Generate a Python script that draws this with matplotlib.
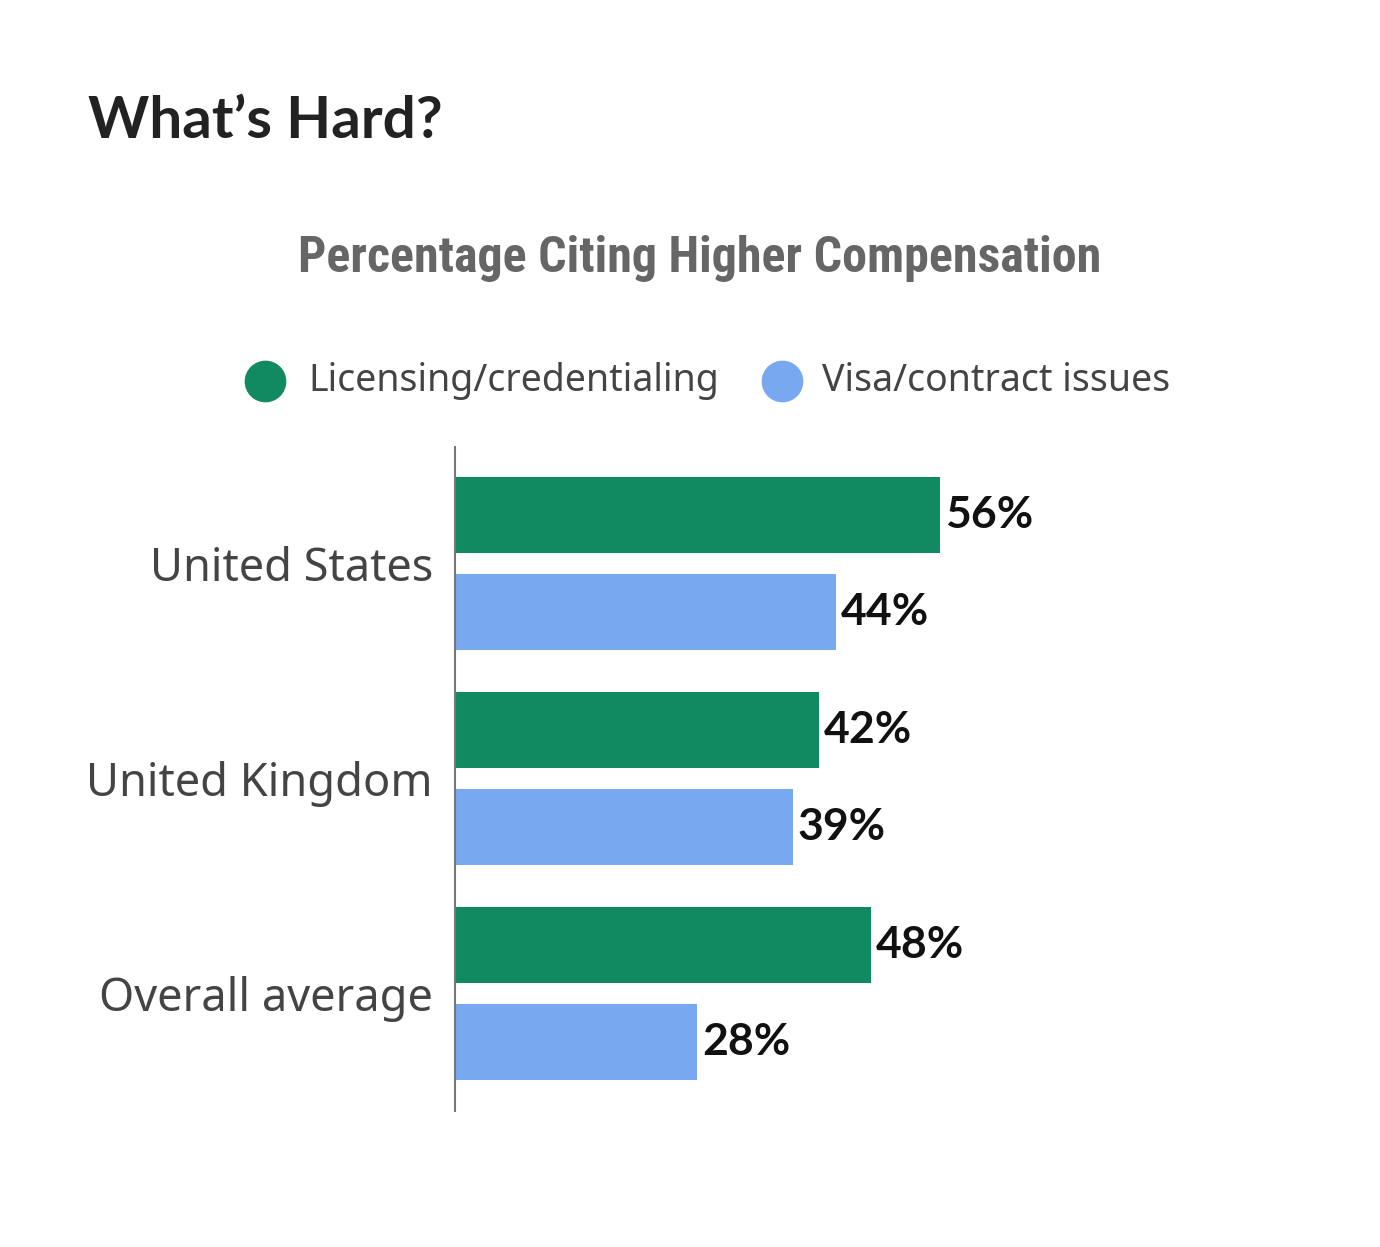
import matplotlib.pyplot as plt
from matplotlib.lines import Line2D

categories = ['United States', 'United Kingdom', 'Overall average']
licensing = [56, 42, 48]
visa = [44, 39, 28]
series_names = ['Licensing/credentialing', 'Visa/contract issues']

green = '#118a62'
blue = '#78a8f0'
font = ['Noto Sans', 'Lato', 'DejaVu Sans']
bold_font = ['Lato', 'DejaVu Sans']
cond = ['Roboto Condensed', 'Roboto', 'DejaVu Sans']

fig = plt.figure(figsize=(13.8, 12.47), dpi=100)
ax = fig.add_axes([455 / 1380, 1 - 1111 / 1247, 866 / 1380, 664 / 1247])

pos = list(range(len(categories)))
off = 0.2256
h = 0.353
ax.barh([p - off for p in pos], licensing, height=h, color=green)
ax.barh([p + off for p in pos], visa, height=h, color=blue)

for p, a, b in zip(pos, licensing, visa):
    ax.text(a + 0.6, p - off, f'{a}%', va='center', ha='left', fontsize=32,
            fontweight='bold', family=bold_font, color='#111111')
    ax.text(b + 0.6, p + off, f'{b}%', va='center', ha='left', fontsize=32,
            fontweight='bold', family=bold_font, color='#111111')

ax.set_xlim(0, 100)
ax.set_ylim(2.546, -0.542)
ax.set_yticks(pos)
ax.set_yticklabels(categories, fontsize=32.5, family=font, color='#444444')
ax.tick_params(axis='y', length=0, pad=16)
ax.set_xticks([])
for s in ['top', 'right', 'bottom']:
    ax.spines[s].set_visible(False)
ax.spines['left'].set_color('#777777')
ax.spines['left'].set_linewidth(1.5)

fig.text(88 / 1380, 1 - 122 / 1247, 'What\u2019s Hard?', fontsize=42, family=bold_font,
         fontweight='bold', color='#222222', va='center', ha='left')
fig.text(700 / 1380, 1 - 258 / 1247, 'Percentage Citing Higher Compensation',
         fontsize=36, family=cond, fontweight='bold', color='#666666',
         va='center', ha='center')

# legend
for cx, tx, col, name in [(265, 308, green, series_names[0]), (782, 822, blue, series_names[1])]:
    fig.add_artist(Line2D([cx / 1380], [1 - 381 / 1247], marker='o', markersize=29,
                          color=col, linestyle='none', transform=fig.transFigure))
    fig.text(tx / 1380, 1 - 381 / 1247, name, fontsize=27, family=font,
             color='#444444', va='center', ha='left')

fig.savefig('out.png', dpi=100)
